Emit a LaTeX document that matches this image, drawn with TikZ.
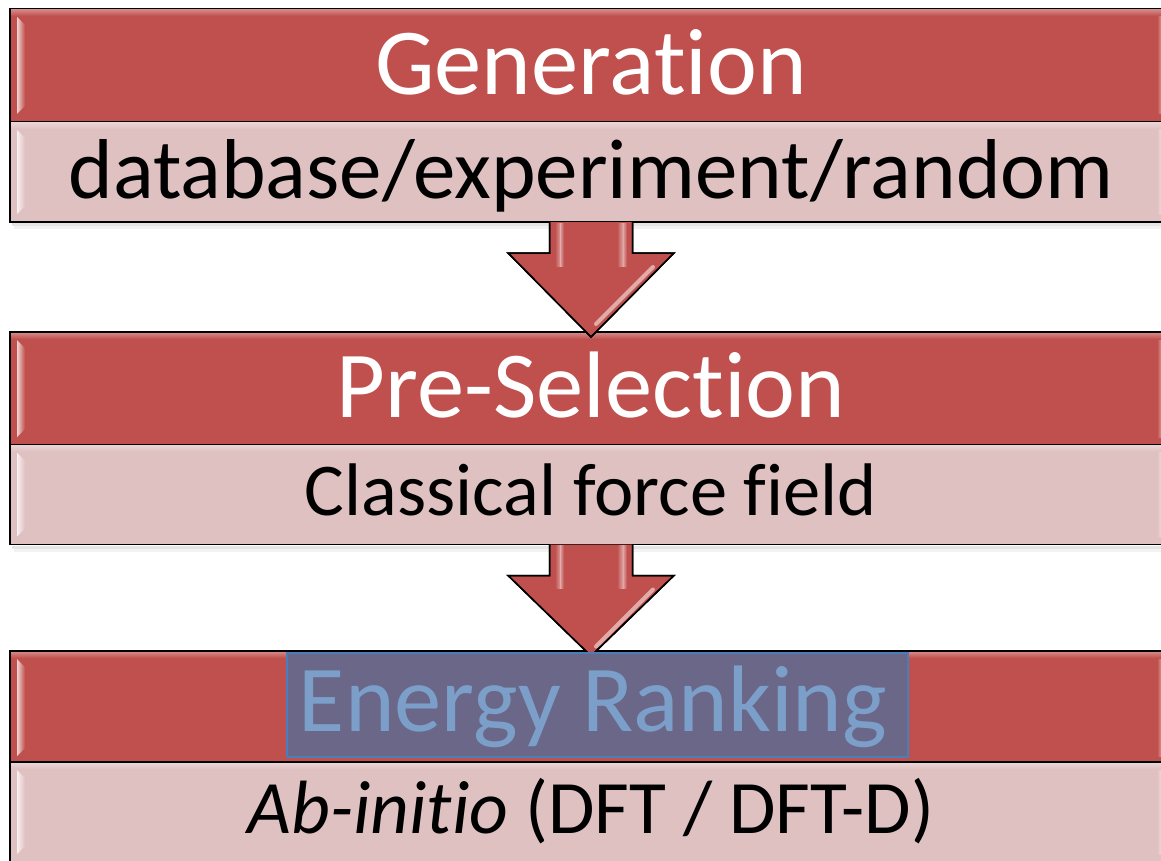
\documentclass[tikz,border=0pt]{standalone}
\usepackage{fontspec}
\setmainfont[Ligatures=NoCommon]{Carlito}
\usetikzlibrary{calc}
\definecolor{hdr}{HTML}{C0504D}
\definecolor{bod}{HTML}{E0C1C2}
\definecolor{rankfill}{HTML}{6A6789}
\definecolor{rankline}{HTML}{4A7EBB}
\definecolor{ranktext}{HTML}{7C9FC9}
\tikzset{
  hdrbox/.style={rectangle, inner sep=0pt, outer sep=0pt, fill=hdr, draw=black, line width=1.8pt,
                 minimum width=1162pt, minimum height=113pt},
  bodbox/.style={rectangle, inner sep=0pt, outer sep=0pt, fill=bod, draw=black, line width=1.8pt,
                 minimum width=1162pt, minimum height=100pt},
  bigtxt/.style={anchor=base, inner sep=0pt, font=\fontsize{94.5}{100}\selectfont},
  smalltxt/.style={anchor=base, inner sep=0pt, font=\fontsize{85}{90}\selectfont},
  downarrow/.style={fill=hdr, draw=black, line width=1.5pt, line join=miter},
}
\begin{document}
\begin{tikzpicture}[x=1pt,y=-1pt]
\useasboundingbox (0,0) rectangle (1161,861);

% three stages: coloured title bar above a lighter description bar
\node[hdrbox] (h1) at (591,65.5) {};
\node[bodbox] (d1) at (591,172) {};
\node[hdrbox] (h2) at (591,388.5) {};
\node[bodbox] (d2) at (591,494.5) {};
\node[hdrbox] (h3) at (591,707.5) {};
\node[bodbox] (d3) at (591,812) {};

% soft drop shadow under each stage
\foreach \n in {d1,d2} {
  \fill[black,opacity=0.10] ($(\n.south west)+(2,1)$) rectangle ($(\n.south east)+(0,4)$);
  \fill[black,opacity=0.05] ($(\n.south west)+(4,4)$) rectangle ($(\n.south east)+(0,7)$);
}

% bevel highlights along the inner edges
\foreach \n/\c in {h1/hdr,d1/bod,h2/hdr,d2/bod,h3/hdr,d3/bod} {
  \shade[top color=white!30!\c, bottom color=\c]
    ($(\n.north west)+(1,1)$) rectangle ($(\n.north east)+(-1,7)$);
  \shade[left color=white!75!\c, right color=\c]
    ($(\n.north west)+(7,8)$) -- ($(\n.north west)+(15,16)$) --
    ($(\n.south west)+(15,-16)$) -- ($(\n.south west)+(7,-8)$) -- cycle;
  \shade[left color=\c, right color=white!75!\c]
    ($(\n.north east)+(-15,8)$) -- ($(\n.north east)+(-7,8)$) --
    ($(\n.south east)+(-7,-8)$) -- ($(\n.south east)+(-15,-8)$) -- cycle;
}

% block arrows between the stages
\foreach \a/\b in {d1/h2,d2/h3} {
  \coordinate (top) at (\a.south);
  \coordinate (tip) at ($(\b.north)+(0,5)$);
  \path[downarrow]
    ($(top)+(-41.5,0)$) -- ($(top)+(-41.5,31)$) -- ($(top)+(-83,31)$) --
    (tip) -- ($(top)+(83,31)$) -- ($(top)+(41.5,31)$) -- ($(top)+(41.5,0)$);
  \shade[left color=hdr, right color=white!55!hdr, opacity=0.9]
    ($(top)+(-36,1)$) rectangle ($(top)+(-30,44)$);
  \shade[left color=white!55!hdr, right color=hdr, opacity=0.9]
    ($(top)+(-31,1)$) rectangle ($(top)+(-27,44)$);
  \shade[left color=hdr, right color=white!55!hdr, opacity=0.9]
    ($(top)+(26,1)$) rectangle ($(top)+(32,44)$);
  \shade[left color=white!55!hdr, right color=hdr, opacity=0.9]
    ($(top)+(32,1)$) rectangle ($(top)+(36,44)$);
  \draw[white!65!hdr, line width=4pt, opacity=0.8, line cap=round]
    ($(top)+(62,45)$) -- ($(top)+(5,102)$);
  \draw[black, line width=1.5pt]
    ($(top)+(-41.5,0)$) -- ($(top)+(-41.5,31)$) -- ($(top)+(-83,31)$) --
    (tip) -- ($(top)+(83,31)$) -- ($(top)+(41.5,31)$) -- ($(top)+(41.5,0)$);
}

% highlighted title of the last stage
\node[rectangle, inner sep=0pt, outer sep=0pt, fill=rankfill, draw=rankline, line width=1.5pt,
      minimum width=621pt, minimum height=104pt] (rank) at (597.5,705) {};

% texts
\node[bigtxt, text=white] (t1) at (591,95) {Generation};
\node[smalltxt] (s1) at (591,198) {database/experiment/random};
\node[bigtxt, text=white] (t2) at (591,417) {Pre-Selection};
\node[smalltxt, font=\fontsize{74.5}{80}\selectfont] (s2) at (591,515) {Classical force field};
\node[bigtxt, text=ranktext] (t3) at (593,731) {Energy Ranking};
\node[smalltxt, font=\fontsize{75.5}{80}\selectfont] (s3) at (591,833) {\textit{Ab-initio} (DFT / DFT-D)};
\end{tikzpicture}
\end{document}
